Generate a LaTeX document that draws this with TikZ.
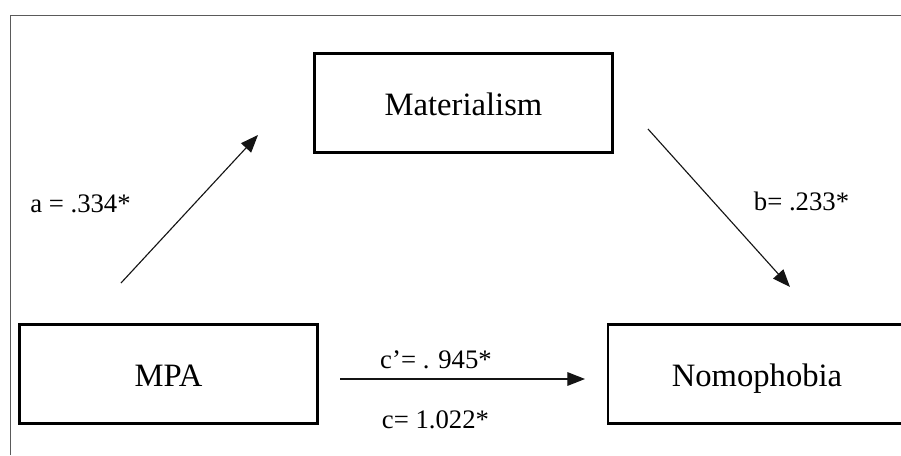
\documentclass[tikz,border=0pt]{standalone}
\usepackage{fontspec}
\setmainfont{Liberation Serif}
\usepackage{tikz}
\usetikzlibrary{arrows.meta,positioning}
\definecolor{frame}{RGB}{90,90,90}
\definecolor{ink}{RGB}{20,20,20}

\tikzset{
  varbox/.style={draw=black,line width=1.9pt,minimum width=7.45cm,minimum height=2.47cm,
    inner sep=0pt,text height=20.8pt,text depth=2.8pt,font=\fontsize{23.2}{27}\selectfont},
  coef/.style={anchor=base,inner sep=0pt,font=\fontsize{19}{23}\selectfont},
  effect/.style={draw=ink,line width=0.8pt,-{Triangle[length=0.44cm,width=0.34cm]}}
}

\begin{document}
\begin{tikzpicture}[x=0.025cm,y=-0.025cm]
    \useasboundingbox (0,0) rectangle (901,455);
    % frame
    \draw[frame,line width=0.7pt] (10,455)--(10,15)--(905,15);
    % variables
    \node[varbox] (mat) at (463.5,103) {Materialism};
    \node[varbox] (mpa) at (168.5,374) {MPA};
    \node[varbox] (nomo) at (757,374) {Nomophobia};
    % free ends of the paths
    \coordinate (aS) at (121,283);
    \coordinate (aE) at (258,135);
    \coordinate (bS) at (648,129);
    \coordinate (bE) at (790,287);
    \coordinate (cS) at (340,379);
    \coordinate (cE) at (585,379);
    \draw[effect] (aS)--(aE);
    \draw[effect] (bS)--(bE);
    \draw[effect] (cS)--(cE);
    % coefficients
    \node[coef] (aLab) at (80.5,212) {a = .334*};
    \node[coef] (bLab) at (801.5,210) {b= .233*};
    \node[coef] (cpLab) at (436,368) {c’= . 945*};
    \node[coef] (cLab) at (435.5,428) {c= 1.022*};
  \end{tikzpicture}
\end{document}
